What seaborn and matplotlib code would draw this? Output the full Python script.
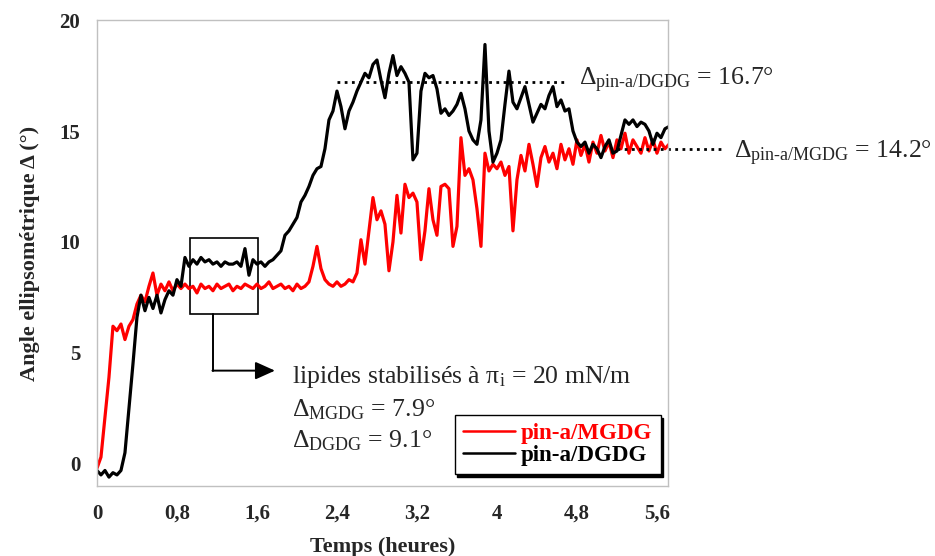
import matplotlib
matplotlib.use("Agg")
import matplotlib.pyplot as plt
from matplotlib.lines import Line2D
from matplotlib.patches import Rectangle
import numpy as np
import pandas as pd
import seaborn as sns

# sampling step of both traces (hours)
TIME_STEP = 0.04

# pin-a/MGDG, ellipsometric angle (deg), one value per TIME_STEP from t = 0
MGDG_ANGLE = [
    -0.2, 0.3, 2.1, 3.9, 6.2, 6.0, 6.3, 5.6, 6.2, 6.5,
    7.2, 7.6, 7.3, 8.0, 8.6, 7.6, 8.1, 7.8, 8.2, 7.8,
    8.1, 7.9, 8.1, 7.9, 8.0, 7.7, 8.1, 7.9, 8.0, 7.8,
    8.1, 7.9, 8.0, 8.1, 7.8, 8.0, 7.9, 8.1, 8.0, 7.9,
    8.1, 7.9, 8.0, 8.2, 7.9, 8.0, 8.1, 7.9, 8.0, 7.8,
    8.1, 7.9, 8.0, 8.2, 8.9, 9.8, 8.8, 8.3, 8.1, 8.0,
    8.2, 8.0, 8.1, 8.3, 8.2, 8.6, 10.1, 9.0, 10.5, 12.0,
    11.0, 11.4, 10.8, 8.7, 10.0, 12.1, 10.4, 12.6, 12.0, 12.2,
    11.8, 9.2, 10.5, 12.4, 11.0, 10.3, 12.5, 12.6, 12.4, 9.8,
    10.7, 14.7, 13.0, 13.3, 12.8, 11.5, 9.8, 14.0, 13.2, 13.5,
    13.3, 13.6, 13.0, 13.4, 10.5, 12.8, 13.9, 13.2, 14.4, 13.5,
    12.5, 13.8, 14.3, 13.6, 14.0, 13.3, 14.4, 13.7, 14.2, 13.5,
    14.6, 13.9, 14.4, 13.6, 14.5, 14.0, 14.8, 14.1, 14.5, 13.8,
    14.6, 14.2, 14.9, 14.0, 14.6, 14.3, 14.0, 14.7, 14.1, 14.6,
    14.0, 14.5, 14.2, 14.4,
]

# pin-a/DGDG, same sampling
DGDG_ANGLE = [
    -0.3, -0.5, -0.3, -0.6, -0.4, -0.5, -0.3, 0.5, 2.5, 4.5,
    6.6, 7.6, 6.9, 7.5, 7.0, 7.6, 6.8, 7.4, 7.8, 7.6,
    8.3, 8.0, 9.3, 8.9, 9.2, 9.0, 9.3, 9.1, 9.2, 9.0,
    9.1, 8.9, 9.1, 9.0, 9.0, 9.1, 8.9, 9.7, 8.5, 9.2,
    9.0, 9.1, 8.9, 9.1, 9.2, 9.4, 9.6, 10.3, 10.5, 10.8,
    11.1, 11.8, 12.1, 12.5, 13.0, 13.3, 13.4, 14.2, 15.5, 15.9,
    16.8, 16.1, 15.1, 15.9, 16.3, 16.8, 17.2, 17.6, 17.4, 18.0,
    18.2, 17.3, 16.5, 17.6, 18.4, 17.5, 17.9, 17.6, 17.2, 13.7,
    14.0, 16.8, 17.6, 17.4, 17.5, 16.9, 15.8, 16.0, 15.7, 15.9,
    16.2, 16.7, 16.0, 15.0, 14.6, 14.4, 15.5, 18.9, 15.0, 13.6,
    14.0, 14.6, 16.2, 17.7, 16.3, 16.0, 16.5, 17.0, 16.2, 15.4,
    15.8, 16.2, 16.0, 16.6, 17.0, 16.1, 16.4, 15.9, 16.0, 15.0,
    14.5, 14.3, 14.5, 14.0, 14.4, 14.2, 13.8, 14.3, 14.6, 14.0,
    14.1, 14.8, 15.5, 15.3, 15.5, 15.2, 15.4, 15.3, 15.0, 14.4,
    14.9, 14.7, 15.1, 15.2,
]

SERIES_NAMES = ["pin-a/MGDG", "pin-a/DGDG"]
SERIES_COLORS = {"pin-a/MGDG": "#ff0000", "pin-a/DGDG": "#000000"}

X_TICKS = [0, 0.8, 1.6, 2.4, 3.2, 4.0, 4.8, 5.6]
X_TICK_LABELS = ["0", "0,8", "1,6", "2,4", "3,2", "4", "4,8", "5,6"]
Y_TICKS = [0, 5, 10, 15, 20]

# plateau values quoted in the annotations
DELTA_DGDG_PLATEAU = 16.7
DELTA_MGDG_PLATEAU = 14.2
DELTA_MGDG_LIPID = 7.9
DELTA_DGDG_LIPID = 9.1

SERIF = ["Liberation Serif", "DejaVu Serif"]
NOTE_SIZE = 18.5


def configure_plot_style():
    sns.set_theme(style="white")
    plt.rcParams.update({
        "font.family": SERIF,
        "mathtext.fontset": "custom",
        "mathtext.rm": "Liberation Serif",
        "mathtext.it": "Liberation Serif:italic",
        "mathtext.bf": "Liberation Serif:bold",
        "axes.unicode_minus": False,
    })


def build_frame():
    frames = []
    for name, values in zip(SERIES_NAMES, [MGDG_ANGLE, DGDG_ANGLE]):
        t = np.round(np.arange(len(values)) * TIME_STEP, 2)
        frames.append(pd.DataFrame({"time": t, "angle": values, "sample": name}))
    return pd.concat(frames, ignore_index=True)


def main():
    configure_plot_style()
    df = build_frame()

    fig = plt.figure(figsize=(9.35, 5.56), dpi=100)
    ax = fig.add_axes([0.1037, 0.1259, 0.6107, 0.838])

    sns.lineplot(data=df, x="time", y="angle", hue="sample", hue_order=SERIES_NAMES,
                 palette=SERIES_COLORS, estimator=None, sort=False, legend=False,
                 linewidth=2.3, ax=ax)

    ax.set_xlim(0, 5.71)
    ax.set_ylim(-1, 20)
    ax.set_xticks(X_TICKS)
    ax.set_xticklabels(X_TICK_LABELS)
    ax.set_yticks(Y_TICKS)
    for lab in ax.get_xticklabels() + ax.get_yticklabels():
        lab.set_fontweight("bold")
        lab.set_fontsize(15)
    ax.tick_params(axis="x", direction="in", length=5, width=0.8, color="#b0b0b0", pad=13)
    ax.tick_params(axis="y", direction="in", length=5, width=0.8, color="#b0b0b0", pad=12)
    for spine in ax.spines.values():
        spine.set_color("#c0c0c0")
        spine.set_linewidth(1.0)

    ax.set_xlabel("Temps (heures)", fontsize=16, fontweight="bold", labelpad=9)
    ax.set_ylabel("Angle ellipsométrique Δ (°)", fontsize=16, fontweight="bold", labelpad=14)

    # stabilised-lipid window and its pointer
    ax.add_patch(Rectangle((0.93, 6.73), 0.68, 3.47, fill=False, edgecolor="black", linewidth=1.2))
    ax.plot([1.16, 1.16], [6.73, 4.2], color="black", linewidth=1.4)
    ax.annotate("", xy=(1.78, 4.2), xytext=(1.155, 4.2),
                arrowprops=dict(arrowstyle="-|>,head_length=1.0,head_width=0.45",
                                color="black", linewidth=1.4, shrinkA=0, shrinkB=0))
    ax.text(1.95, 3.66, "lipides stabilisés à π$_{\\mathrm{i}}$ = 20 mN/m", fontsize=NOTE_SIZE,
            va="baseline")
    ax.text(1.95, 2.12, f"Δ$_{{\\mathrm{{MGDG}}}}$ = {DELTA_MGDG_LIPID}°", fontsize=NOTE_SIZE,
            va="baseline")
    ax.text(1.95, 0.72, f"Δ$_{{\\mathrm{{DGDG}}}}$ = {DELTA_DGDG_LIPID}°", fontsize=NOTE_SIZE,
            va="baseline")

    # plateau markers
    ax.plot([2.40, 4.71], [17.2, 17.2], color="black", linewidth=2.0, linestyle=(0, (1, 1.6)))
    ax.text(4.82, 17.05, f"Δ$_{{\\mathrm{{pin‐a/DGDG}}}}$ = {DELTA_DGDG_PLATEAU}°", fontsize=NOTE_SIZE,
            va="baseline")
    ax.plot([5.20, 6.28], [14.2, 14.2], color="black", linewidth=2.0, linestyle=(0, (1, 1.6)),
            clip_on=False)
    ax.text(6.37, 13.75, f"Δ$_{{\\mathrm{{pin‐a/MGDG}}}}$ = {DELTA_MGDG_PLATEAU}°", fontsize=NOTE_SIZE,
            va="baseline")

    handles = [Line2D([], [], color=SERIES_COLORS[n], linewidth=1.8) for n in SERIES_NAMES]
    leg = ax.legend(handles, SERIES_NAMES, loc="lower right", bbox_to_anchor=(0.995, 0.015),
                    prop={"family": SERIF, "weight": "bold", "size": 16.5},
                    fancybox=False, shadow={"color": "black", "alpha": 1.0},
                    edgecolor="black", framealpha=1.0, handlelength=2.3,
                    borderpad=0.35, labelspacing=0.05, handletextpad=0.25, borderaxespad=0.2)
    leg.get_frame().set_linewidth(1.0)
    for text, name in zip(leg.get_texts(), SERIES_NAMES):
        text.set_color(SERIES_COLORS[name])

    fig.savefig("out.png", dpi=100)
    plt.close(fig)


if __name__ == "__main__":
    main()
